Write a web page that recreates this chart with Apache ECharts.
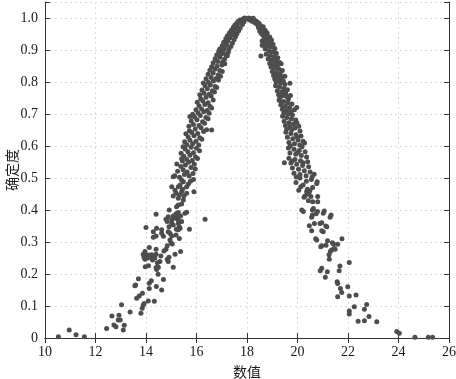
<!DOCTYPE html>
<html>
<head>
<meta charset="utf-8">
<script src="https://cdn.jsdelivr.net/npm/echarts@6/dist/echarts.min.js"></script>
<style>
  html, body { margin: 0; padding: 0; background: #fff; }
  #chart { width: 456px; height: 379px; }
</style>
</head>
<body>
<div id="chart"></div>
<script>
// 云滴 (数值, 确定度)，从图上逐点估读
var xTicks = [10, 12, 14, 16, 18, 20, 22, 24, 26];

var leftTail = [
  [10.53,0.004],[10.96,0.025],[11.23,0.010],[11.56,0.004],
  [12.44,0.030],[12.65,0.069],[12.73,0.041],[12.81,0.035],[12.90,0.056],[12.93,0.071],[12.98,0.056],
  [13.03,0.104],[13.10,0.025],[13.14,0.040],[13.37,0.081],
  [13.56,0.163],[13.63,0.124],[13.70,0.185],[13.73,0.131],[13.86,0.140],[13.80,0.077],[13.85,0.093],
  [13.89,0.103],[13.93,0.108],[13.97,0.223],[14.00,0.260],[14.05,0.250],[14.10,0.226],[14.13,0.171],
  [14.13,0.155],[14.21,0.179],[14.23,0.260],[14.33,0.115],[14.35,0.250],[14.41,0.161],[14.40,0.220],
  [14.45,0.235],[14.48,0.199],[14.09,0.116],[14.62,0.150],[14.69,0.183],[13.59,0.166],
  [14.42,0.214],[14.49,0.221],[15.08,0.221],[14.88,0.239],[14.84,0.246],[14.55,0.239],[14.22,0.249],
  [14.26,0.244],[14.00,0.252],[13.96,0.246],[14.13,0.259],[13.92,0.252],[14.40,0.262],[14.59,0.256],
  [14.91,0.252],[15.15,0.262],[15.37,0.270],[13.96,0.270],[13.89,0.262],[14.13,0.283],[14.40,0.277],
  [14.71,0.272],[14.79,0.277],[14.84,0.288],[15.04,0.294],[14.99,0.298]
];

var leftMid = [
  [14.95,0.306],[14.29,0.315],[14.40,0.319],[14.69,0.318],[14.62,0.327],[15.02,0.319],[14.88,0.332],
  [14.95,0.327],[15.19,0.322],[15.32,0.311],[15.28,0.338],[14.29,0.332],[14.42,0.343],[14.62,0.338],
  [14.91,0.348],[15.20,0.340],[15.35,0.343],[15.02,0.358],[15.08,0.353],[14.84,0.364],[14.79,0.371],
  [15.02,0.369],[15.15,0.374],[15.08,0.381],[15.28,0.369],[15.24,0.381],[15.41,0.364],[14.92,0.400],
  [14.40,0.387],[14.00,0.345],[15.19,0.388],[15.28,0.392],[15.37,0.381],[15.54,0.390],[15.61,0.393],
  [15.72,0.340],[16.34,0.371],[15.32,0.348],[15.28,0.358],[15.21,0.410],[15.28,0.416],[15.41,0.419],
  [15.48,0.431],[15.28,0.437],[15.32,0.447],[15.50,0.444],[15.61,0.452],[15.41,0.457],[15.45,0.465],
  [15.19,0.452],[15.08,0.444],[15.15,0.462],[15.28,0.473],[15.35,0.478],[15.61,0.473],[15.68,0.481],
  [15.90,0.457],[15.02,0.473],[15.48,0.488],[15.41,0.494],[15.76,0.490],[15.88,0.495],[14.88,0.379],
  [15.08,0.504]
];

var leftBand = [
  [15.14,0.507],[15.33,0.502],[15.52,0.511],[15.71,0.506],[15.86,0.514],[15.25,0.521],[15.47,0.526],
  [15.63,0.519],[15.95,0.528],[15.38,0.536],[15.56,0.541],[15.78,0.533],[15.22,0.544],[15.69,0.549],
  [15.91,0.543],[15.41,0.560],
  [15.44,0.553],[15.61,0.558],[15.83,0.555],[16.04,0.561],[15.50,0.568],[15.74,0.571],[15.96,0.566],
  [15.39,0.577],[15.66,0.582],[15.88,0.579],[16.12,0.585],[15.55,0.591],[15.79,0.596],[16.00,0.593],
  [15.47,0.598],
  [15.62,0.604],[15.85,0.607],[16.09,0.603],[15.53,0.613],[15.74,0.618],[15.98,0.615],[16.21,0.621],
  [15.67,0.628],[15.90,0.632],[16.13,0.626],[15.58,0.638],[15.81,0.642],[16.05,0.639],[16.28,0.645],
  [15.72,0.648],[16.60,0.650],
  [15.95,0.653],[16.18,0.657],[16.40,0.651],[15.70,0.662],[15.88,0.667],[16.10,0.664],[16.32,0.671],
  [15.79,0.678],[16.02,0.682],[16.24,0.676],[16.46,0.685],[15.92,0.691],[16.15,0.695],[16.37,0.689],
  [15.85,0.699],[15.74,0.692],
  [16.06,0.703],[16.29,0.707],[16.50,0.702],[15.98,0.713],[16.20,0.716],[16.42,0.711],[16.60,0.719],
  [16.10,0.726],[16.33,0.730],[16.53,0.724],[16.03,0.737],[16.25,0.741],[16.46,0.735],[16.66,0.744],
  [16.17,0.748],
  [16.38,0.752],[16.58,0.756],[16.13,0.760],[16.30,0.765],[16.50,0.762],[16.71,0.769],[16.22,0.775],
  [16.43,0.779],[16.63,0.773],[16.80,0.783],[16.34,0.788],[16.55,0.791],[16.74,0.786],[16.27,0.797],
  [16.47,0.799],
  [16.67,0.803],[16.87,0.806],[16.38,0.810],[16.58,0.814],[16.78,0.811],[16.95,0.818],[16.46,0.824],
  [16.66,0.828],[16.86,0.822],[17.02,0.833],[16.53,0.837],[16.73,0.841],[16.92,0.836],[16.60,0.848],
  [16.81,0.849],
  [17.00,0.853],[17.12,0.857],[16.66,0.860],[16.84,0.864],[17.03,0.862],[16.74,0.873],[16.93,0.877],
  [17.11,0.871],[17.22,0.882],[16.80,0.884],[16.99,0.888],[17.16,0.885],[16.88,0.895],[17.06,0.898],
  [17.26,0.893],
  [16.92,0.903],[17.10,0.906],[17.28,0.902],[17.02,0.913],[17.19,0.916],[17.36,0.911],[17.08,0.924],
  [17.25,0.928],[17.42,0.921],[17.16,0.935],[17.33,0.938],[17.49,0.932],[17.22,0.944],[17.40,0.947],
  [17.55,0.942],
  [17.30,0.953],[17.46,0.956],[17.60,0.951],[17.38,0.962],[17.53,0.965],[17.67,0.960],[17.46,0.971],
  [17.60,0.974],[17.73,0.969],[17.52,0.978]
];

var peak = [
  [17.58,0.982],[17.70,0.985],[17.82,0.980],[17.64,0.989],[17.76,0.992],[17.88,0.988],[17.72,0.994],
  [17.84,0.997],[17.95,0.996],[17.90,1.000],[18.00,0.999],[18.08,1.000],[18.16,0.998],[18.05,0.997],
  [18.22,0.996],[18.12,0.994],[18.28,0.993],[18.36,0.991],[18.20,0.990],[18.42,0.987],[18.30,0.986],
  [18.48,0.983],[18.38,0.981],[17.98,0.998],[18.25,0.999]
];

var rightBand = [
  [18.52,0.977],[18.64,0.973],[18.45,0.970],[18.58,0.966],[18.72,0.962],[18.50,0.959],[18.66,0.956],
  [18.80,0.953],[18.56,0.952],
  [18.62,0.948],[18.76,0.945],[18.90,0.941],[18.68,0.938],[18.83,0.934],[18.97,0.931],[18.60,0.928],
  [18.74,0.925],[18.89,0.921],[19.03,0.918],[18.64,0.915],[18.80,0.912],[18.95,0.909],[19.10,0.905],
  [18.72,0.903],[18.60,0.915],
  [18.87,0.898],[19.02,0.894],[19.16,0.890],[18.76,0.887],[18.92,0.883],[19.08,0.879],[19.22,0.876],
  [18.84,0.872],[18.99,0.868],[19.14,0.865],[19.29,0.861],[18.90,0.858],[19.05,0.855],[19.21,0.852],
  [19.35,0.857],[18.55,0.881],
  [18.95,0.847],[19.10,0.843],[19.27,0.840],[19.40,0.836],[19.00,0.833],[19.16,0.829],[19.32,0.826],
  [19.05,0.820],[19.22,0.817],[19.38,0.813],[19.50,0.818],[19.10,0.809],[19.27,0.805],[19.44,0.802],
  [19.15,0.800],
  [19.33,0.796],[19.50,0.792],[19.13,0.788],[19.29,0.784],[19.46,0.780],[19.60,0.776],[19.20,0.773],
  [19.37,0.769],[19.53,0.765],[19.25,0.760],[19.42,0.757],[19.59,0.753],[19.72,0.758],[19.30,0.751],
  [19.48,0.772],[19.70,0.796],
  [19.64,0.747],[19.27,0.743],[19.45,0.739],[19.62,0.735],[19.78,0.731],[19.34,0.728],[19.52,0.724],
  [19.69,0.720],[19.40,0.715],[19.57,0.711],[19.75,0.707],[19.88,0.713],[19.46,0.704],[19.63,0.701],
  [19.36,0.736],[19.97,0.720],
  [19.80,0.697],[19.41,0.693],[19.58,0.689],[19.76,0.685],[19.93,0.681],[19.47,0.677],[19.66,0.673],
  [19.84,0.669],[19.52,0.664],[19.71,0.660],[19.90,0.656],[20.05,0.662],[19.57,0.653],[19.77,0.651],
  [19.98,0.672],
  [20.10,0.647],[19.54,0.643],[19.74,0.639],[19.94,0.635],[20.14,0.631],[19.60,0.627],[19.81,0.623],
  [20.02,0.619],[20.22,0.615],[19.66,0.611],[19.88,0.607],[20.09,0.603],[20.28,0.609],[19.72,0.601],
  [19.99,0.628],
  [20.18,0.598],[19.64,0.594],[19.86,0.590],[20.07,0.586],[20.30,0.582],[19.70,0.578],[19.93,0.574],
  [20.15,0.570],[20.36,0.566],[19.66,0.562],[19.90,0.558],[20.12,0.554],[20.40,0.551],[19.78,0.552],
  [20.00,0.580],[19.48,0.548],
  [19.74,0.547],[19.97,0.543],[20.20,0.539],[20.44,0.535],[19.80,0.531],[20.04,0.527],[20.27,0.523],
  [20.50,0.519],[19.86,0.515],[20.10,0.511],[20.34,0.507],[20.58,0.503],[19.95,0.503],[20.66,0.512],
  [20.22,0.548]
];

var rightMid = [
  [21.76,0.310],[21.38,0.298],[21.19,0.304],[20.76,0.306],[20.72,0.310],[21.02,0.332],[20.96,0.335],
  [21.16,0.348],[21.12,0.350],[20.96,0.360],[20.89,0.358],[20.56,0.335],[20.47,0.351],[20.67,0.358],
  [21.29,0.377],[21.33,0.384],[21.02,0.390],[21.06,0.397],[20.79,0.395],[20.74,0.388],[20.59,0.384],
  [20.56,0.377],[20.59,0.400],[20.63,0.405],[20.17,0.400],[20.23,0.395],[20.80,0.426],[20.80,0.442],
  [20.60,0.426],[20.43,0.429],[20.53,0.442],[20.30,0.444],[20.26,0.440],[20.36,0.457],[20.39,0.465],
  [20.49,0.460],[20.45,0.450],[20.76,0.483],[20.78,0.488],[20.13,0.473],[19.94,0.486],[20.10,0.500],
  [20.05,0.462],[20.22,0.478],[20.60,0.470],[20.35,0.490],[20.55,0.495]
];

var rightTail = [
  [23.93,0.020],[24.03,0.015],[24.65,0.002],[25.18,0.002],[25.35,0.002],[23.14,0.051],[22.83,0.067],
  [22.65,0.054],[22.40,0.052],[22.74,0.105],[22.65,0.090],[22.25,0.098],[22.32,0.134],[22.05,0.084],
  [22.05,0.075],[22.05,0.131],[21.99,0.160],[22.05,0.236],[21.75,0.142],[21.70,0.155],[21.59,0.129],
  [21.59,0.170],[21.57,0.176],[21.68,0.225],[21.65,0.210],[21.18,0.207],[21.10,0.190],[20.96,0.218],
  [20.90,0.210],[21.26,0.246],[21.25,0.260],[21.30,0.270],[21.45,0.280],[21.35,0.275],[21.49,0.277],
  [21.59,0.293],[21.42,0.294],[21.13,0.290],[20.96,0.288],[20.92,0.285]
];

var drops = [].concat(leftTail, leftMid, leftBand, peak, rightBand, rightMid, rightTail);

var serif = 'Liberation Serif';
var cjk = 'Noto Sans CJK SC';
var axisColor = '#333';
var tickRich = { t: { fontFamily: serif, fontSize: 14, color: '#1a1a1a' } };

var myChart = echarts.init(document.getElementById('chart'), null, {renderer: 'canvas'});

var option = {
    animation: false,
    backgroundColor: '#fff',
    textStyle: { fontFamily: serif },
    grid: { left: 45, right: 7, top: 2, bottom: 41, containLabel: false, outerBoundsMode: 'none' },
    xAxis: [
        {
            type: 'value', min: 10, max: 26, interval: 2, position: 'bottom',
            axisLine: { show: true, lineStyle: { color: axisColor } },
            axisTick: { show: true, inside: true, length: 5, lineStyle: { color: axisColor } },
            axisLabel: {
                fontFamily: serif, fontSize: 14, color: '#1a1a1a', margin: 7,
                formatter: function (v) { return '{t|' + v + '}'; },
                rich: tickRich
            },
            splitLine: { show: true, lineStyle: { color: '#dcdcdc', type: [2, 3] } },
            name: '数值', nameLocation: 'middle', nameGap: 27, nameMoveOverlap: false,
            nameTextStyle: { fontFamily: cjk, fontSize: 14, color: '#1a1a1a' }
        },
        {
            type: 'value', min: 10, max: 26, interval: 2, position: 'top',
            axisLine: { show: true, lineStyle: { color: axisColor } },
            axisTick: { show: true, inside: true, length: 5, lineStyle: { color: axisColor } },
            axisLabel: { show: false },
            splitLine: { show: false }
        }
    ],
    yAxis: [
        {
            type: 'value', min: 0, max: 1.05, interval: 0.1, position: 'left',
            axisLine: { show: true, lineStyle: { color: axisColor } },
            axisTick: { show: true, inside: true, length: 5, lineStyle: { color: axisColor } },
            axisLabel: {
                fontFamily: serif, fontSize: 14, color: '#1a1a1a', margin: 7,
                formatter: function (v) {
                    if (v > 1.0001) return '';
                    return '{t|' + (v === 0 ? '0' : v.toFixed(1)) + '}';
                },
                rich: tickRich
            },
            splitLine: { show: true, lineStyle: { color: '#dcdcdc', type: [2, 3] } },
            name: '确定度', nameLocation: 'middle', nameGap: 26, nameRotate: 90, nameMoveOverlap: false,
            nameTextStyle: { fontFamily: cjk, fontSize: 14, color: '#1a1a1a' }
        },
        {
            type: 'value', min: 0, max: 1.05, interval: 0.1, position: 'right',
            axisLine: { show: true, lineStyle: { color: axisColor } },
            axisTick: { show: true, inside: true, length: 5, lineStyle: { color: axisColor } },
            axisLabel: { show: false },
            splitLine: { show: false }
        }
    ],
    series: [
        {
            type: 'scatter',
            xAxisIndex: 0,
            yAxisIndex: 0,
            symbolSize: 5,
            itemStyle: { color: '#4d4d4d', opacity: 1 },
            data: drops
        }
    ]
};

myChart.setOption(option);
</script>
</body>
</html>
